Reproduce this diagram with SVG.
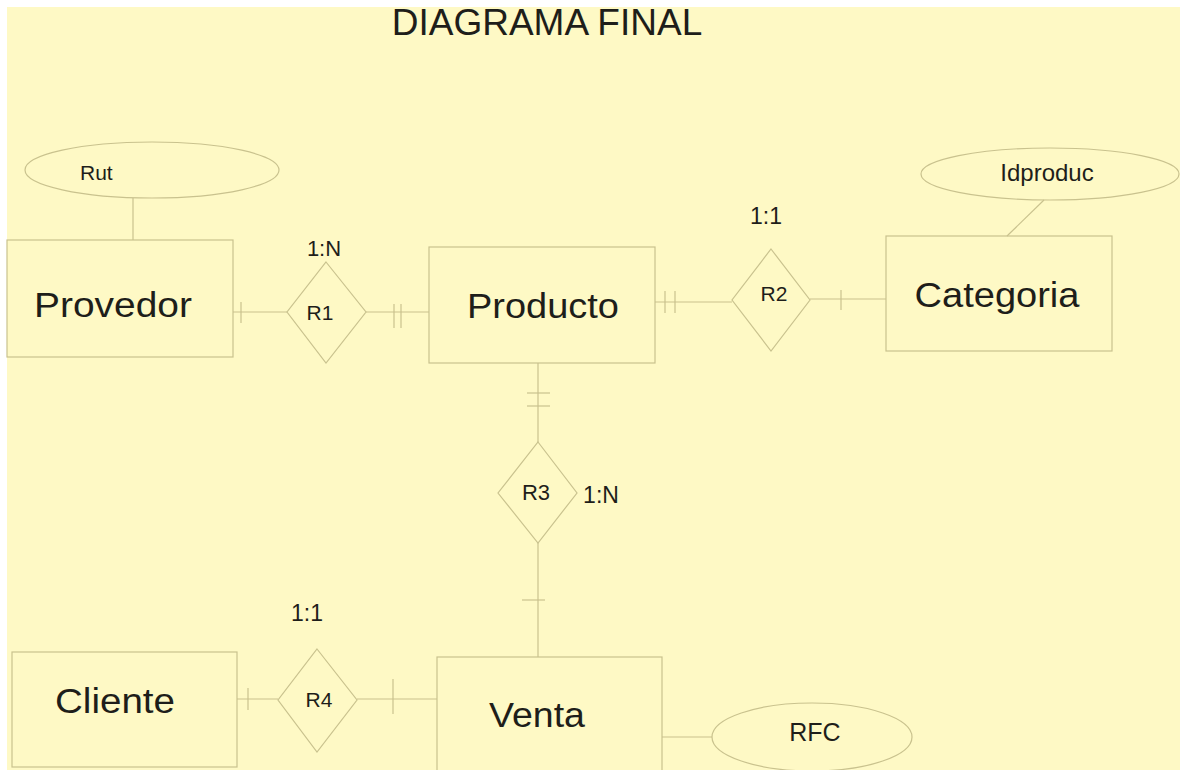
<svg xmlns="http://www.w3.org/2000/svg" width="1180" height="770" viewBox="0 0 1180 770">
<style>
.shape{fill:none;stroke:#c9c28e;stroke-width:1.2}
.ln{stroke:#c9c28e;stroke-width:1.2;fill:none}
.t{font-family:"Liberation Sans",Arial,sans-serif;fill:#1e1e1a}
.big{font-size:35px}
.sm{font-size:21px}
</style>
<rect x="0" y="0" width="1180" height="770" fill="#ffffff"/>
<rect x="7" y="7" width="1173" height="763" fill="#fef9c5"/>
<text class="t" x="547" y="35" font-size="37" text-anchor="middle">DIAGRAMA FINAL</text>
<g id="connectors">
<line class="ln" x1="133" y1="198" x2="133" y2="240"/>
<line class="ln" x1="233" y1="312" x2="287" y2="312"/>
<line class="ln" x1="241" y1="302" x2="241" y2="323"/>
<line class="ln" x1="366" y1="312" x2="429" y2="312"/>
<line class="ln" x1="394" y1="304" x2="394" y2="328"/>
<line class="ln" x1="401" y1="304" x2="401" y2="328"/>
<line class="ln" x1="655" y1="302" x2="732" y2="302"/>
<line class="ln" x1="665" y1="291" x2="665" y2="313"/>
<line class="ln" x1="675" y1="291" x2="675" y2="313"/>
<line class="ln" x1="810" y1="299" x2="886" y2="299"/>
<line class="ln" x1="841" y1="290" x2="841" y2="310"/>
<line class="ln" x1="1044" y1="200" x2="1007" y2="236"/>
<line class="ln" x1="538" y1="363" x2="538" y2="442"/>
<line class="ln" x1="527" y1="393" x2="550" y2="393"/>
<line class="ln" x1="527" y1="406" x2="550" y2="406"/>
<line class="ln" x1="538" y1="543" x2="538" y2="657"/>
<line class="ln" x1="522" y1="600" x2="545" y2="600"/>
<line class="ln" x1="237" y1="699" x2="278" y2="699"/>
<line class="ln" x1="248" y1="688" x2="248" y2="710"/>
<line class="ln" x1="357" y1="699" x2="437" y2="699"/>
<line class="ln" x1="393" y1="679" x2="393" y2="714"/>
<line class="ln" x1="662" y1="737" x2="712" y2="737"/>
</g>
<g id="rut">
<ellipse class="shape" cx="152" cy="170" rx="127" ry="28"/>
<text class="t sm" x="80" y="180">Rut</text>
</g>
<g id="provedor">
<rect class="shape" x="7" y="240" width="226" height="117"/>
<text class="t big" x="113" y="317" text-anchor="middle" textLength="158" lengthAdjust="spacingAndGlyphs">Provedor</text>
</g>
<g id="r1">
<polygon class="shape" points="326,262 366,312 326,363 287,312"/>
<text class="t sm" x="320" y="320" text-anchor="middle">R1</text>
<text class="t" font-size="22" x="324" y="256" text-anchor="middle">1:N</text>
</g>
<g id="producto">
<rect class="shape" x="429" y="247" width="226" height="116"/>
<text class="t big" x="543" y="318" text-anchor="middle" textLength="152" lengthAdjust="spacingAndGlyphs">Producto</text>
</g>
<g id="r2">
<polygon class="shape" points="771,249 810,300 771,351 732,300"/>
<text class="t sm" x="774" y="301" text-anchor="middle">R2</text>
<text class="t" font-size="23" x="766" y="224" text-anchor="middle">1:1</text>
</g>
<g id="categoria">
<rect class="shape" x="886" y="236" width="226" height="115"/>
<text class="t big" x="997" y="307" text-anchor="middle" textLength="165" lengthAdjust="spacingAndGlyphs">Categoria</text>
</g>
<g id="idproduc">
<ellipse class="shape" cx="1050" cy="174" rx="129" ry="26"/>
<text class="t" font-size="24" x="1047" y="181" text-anchor="middle">Idproduc</text>
</g>
<g id="r3">
<polygon class="shape" points="538,442 577,493 538,543 498,493"/>
<text class="t" font-size="22" x="536" y="500" text-anchor="middle">R3</text>
<text class="t" font-size="23" x="601" y="503" text-anchor="middle">1:N</text>
</g>
<g id="cliente">
<rect class="shape" x="12" y="652" width="225" height="115"/>
<text class="t big" x="115" y="713" text-anchor="middle" textLength="120" lengthAdjust="spacingAndGlyphs">Cliente</text>
</g>
<g id="r4">
<polygon class="shape" points="317,649 357,700 317,752 278,700"/>
<text class="t sm" x="319" y="707" text-anchor="middle">R4</text>
<text class="t" font-size="23" x="307" y="621" text-anchor="middle">1:1</text>
</g>
<g id="venta">
<rect class="shape" x="437" y="657" width="225" height="125"/>
<text class="t big" x="537" y="727" text-anchor="middle" textLength="96" lengthAdjust="spacingAndGlyphs">Venta</text>
</g>
<g id="rfc">
<ellipse class="shape" cx="812" cy="737" rx="100" ry="34"/>
<text class="t" font-size="25" x="815" y="741" text-anchor="middle">RFC</text>
</g>
</svg>
